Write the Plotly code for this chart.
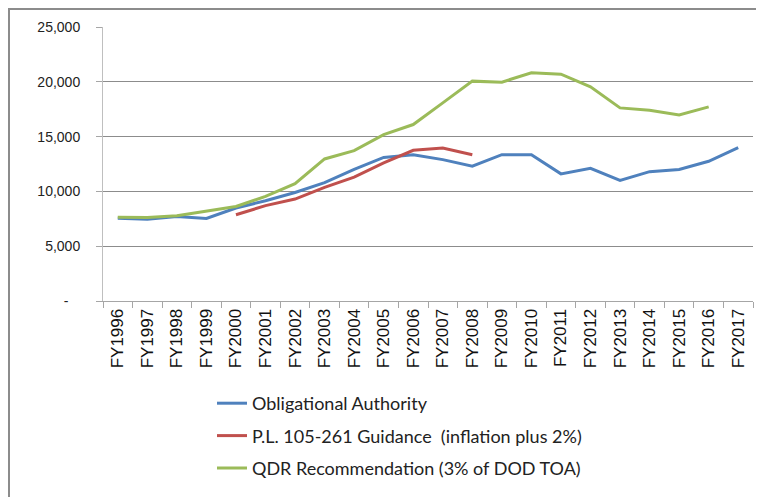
import plotly.graph_objects as go

years = ["FY1996", "FY1997", "FY1998", "FY1999", "FY2000", "FY2001", "FY2002", "FY2003",
         "FY2004", "FY2005", "FY2006", "FY2007", "FY2008", "FY2009", "FY2010", "FY2011",
         "FY2012", "FY2013", "FY2014", "FY2015", "FY2016", "FY2017"]

obligational = [7550, 7470, 7710, 7530, 8480, 9150, 9900, 10800, 12000, 13100, 13350, 12900,
                12300, 13350, 13350, 11600, 12100, 11000, 11800, 12000, 12750, 14000]

pl_guidance = [None, None, None, None, 7870, 8700, 9300, 10370, 11300, 12600, 13750, 13960,
               13350, None, None, None, None, None, None, None, None, None]

qdr = [7650, 7620, 7770, 8170, 8630, 9540, 10700, 12960, 13720, 15180, 16100, 18080,
       20060, 19970, 20820, 20700, 19540, 17620, 17410, 16980, 17710, None]

y_tickvals = [0, 5000, 10000, 15000, 20000, 25000]
y_ticktext = ["-\u00a0\u00a0\u00a0", "5,000", "10,000", "15,000", "20,000", "25,000"]

series = [
    ("Obligational Authority", obligational, "#4F81BD"),
    ("P.L. 105-261 Guidance\u00a0 (inflation plus 2%)", pl_guidance, "#C0504D"),
    ("QDR Recommendation (3% of DOD TOA)", qdr, "#9BBB59"),
]

fig = go.Figure()
for i, (name, vals, color) in enumerate(series):
    fig.add_trace(go.Scatter(
        x=years, y=vals, mode="lines", name=name,
        line=dict(color=color, width=3), connectgaps=False,
        legendgroup=f"g{i}",
    ))

# figure size leaves room for the page's 8px body margin
W, H = 756, 489
ml, mr, mt, mb = 95, 11, 19, 196
pw, ph = W - ml - mr, H - mt - mb

def px_x(x):
    return (x - ml) / pw

def px_y(y):
    return (H - mb - y) / ph

fig.update_layout(
    width=W, height=H,
    margin=dict(l=ml, r=mr, t=mt, b=mb, autoexpand=False),
    paper_bgcolor="white", plot_bgcolor="white",
    font=dict(family="Liberation Sans, Arial, sans-serif", color="#000000"),
    showlegend=True,
    legend=dict(
        x=px_x(204), y=px_y(377), xanchor="left", yanchor="top",
        font=dict(size=18, family="Lato, Open Sans, sans-serif", color="#222"),
        tracegroupgap=6, traceorder="grouped",
        bgcolor="rgba(0,0,0,0)",
    ),
    xaxis=dict(
        type="category", range=[-0.5, len(years) - 0.5],
        tickangle=-90, tickfont=dict(size=17, family="Liberation Sans, Arial", color="#111"),
        showline=True, linecolor="#A6A6A6", linewidth=1,
        ticks="outside", ticklen=6, tickcolor="#A6A6A6", tickson="boundaries",
        showgrid=False, fixedrange=True,
    ),
    yaxis=dict(
        range=[0, 25000], tickvals=y_tickvals, ticktext=y_ticktext,
        tickfont=dict(size=14, family="Liberation Sans, Arial", color="#222"),
        ticklabelstandoff=13,
        showline=True, linecolor="#BFBFBF", linewidth=1,
        ticks="outside", ticklen=6, tickcolor="#A6A6A6",
        showgrid=True, gridcolor="#8C8C8C", gridwidth=1,
        zeroline=False, fixedrange=True,
    ),
    shapes=[dict(
        type="rect", xref="paper", yref="paper",
        x0=px_x(1), x1=px_x(W + 10), y0=px_y(H + 10), y1=px_y(1),
        line=dict(color="#8C8C8C", width=2), fillcolor="rgba(0,0,0,0)", layer="above",
    )],
)

fig.write_html("out.html")
